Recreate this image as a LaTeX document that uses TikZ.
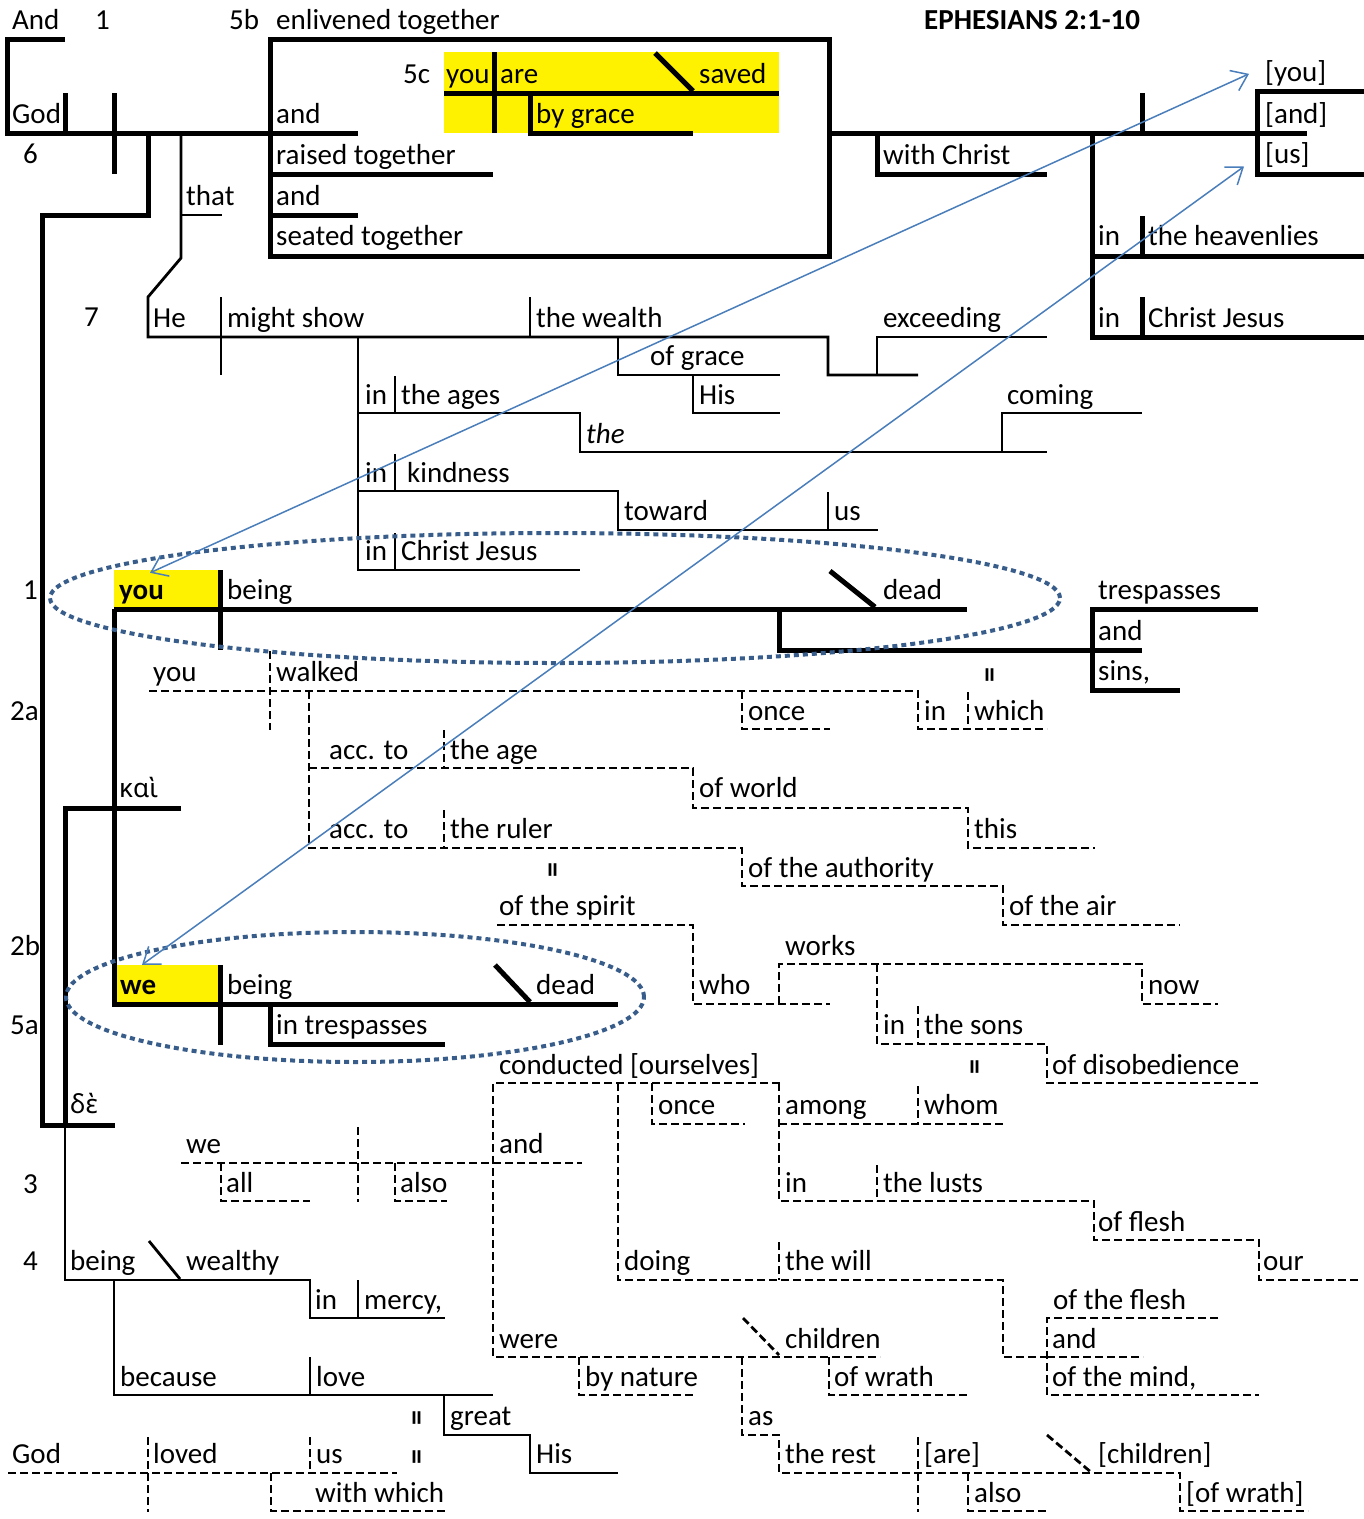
\documentclass[tikz,border=0pt]{standalone}
\usepackage{fontspec}
\setmainfont{Carlito}
\newfontfamily\greekfont{Noto Sans}[Scale=0.9]
\usepackage{tikz}
\usetikzlibrary{arrows.meta}
\usepackage{xcolor}
\definecolor{ringblue}{RGB}{56,93,138}
\definecolor{linkblue}{RGB}{74,126,187}

\begin{document}
\begin{tikzpicture}[
    x=1pt, y=-1pt,
    font=\fontsize{29}{34}\selectfont,
    word/.style={anchor=base west, inner sep=0pt},
    bword/.style={word, font=\fontsize{29}{34}\selectfont\bfseries},
    heavy/.style={line width=5pt},
    light/.style={line width=2.8pt},
    dashln/.style={line width=2.8pt, dash pattern=on 8pt off 4pt},
    hlbox/.style={fill=yellow, draw=none, inner sep=0pt},
    ring/.style={draw=ringblue, line width=4pt, dash pattern=on 5pt off 4pt},
    link/.style={draw=linkblue, line width=1.5pt, <->, >={Straight Barb[length=15pt,width=22pt]}},
    eqmark/.style={rotate=90, inner sep=0pt, font=\fontsize{30}{30}\selectfont\bfseries}
]
    \useasboundingbox (0,0) rectangle (1364,1519);

    % Highlights
    \node[hlbox, minimum width=335pt, minimum height=81pt] (gracebox) at (611.5,92.5) {};
    \node[hlbox, minimum width=105pt, minimum height=37pt] (youbox) at (166.5,588.5) {};
    \node[hlbox, minimum width=103pt, minimum height=37pt] (webox) at (167.5,983.5) {};

    % God ... enlivened together
    \draw[heavy] (65,39) -- (7,39) -- (7,133) -- (358,133);
    \draw[heavy] (65,93) -- (65,133);
    \draw[heavy] (114,93) -- (114,174);
    \draw[heavy] (148,133) -- (148,215) -- (42,215) -- (42,1125) -- (115,1125);
    \draw[heavy] (270,39) rectangle (829,256);
    \draw[heavy] (270,174) -- (493,174);
    \draw[heavy] (270,215) -- (358,215);
    \draw[heavy] (444,93) -- (779,93);
    \draw[heavy] (494,52) -- (494,133);
    \draw[heavy] (530,93) -- (530,133) -- (693,133);
    \draw[heavy] (655,53) -- (693,91);
    \draw[heavy] (829,133) -- (1307,133);
    \draw[heavy] (877,133) -- (877,174) -- (1047,174);
    \draw[heavy] (1142,93) -- (1142,133);
    \draw[heavy] (1092,133) -- (1092,337) -- (1364,337);
    \draw[heavy] (1092,256) -- (1364,256);
    \draw[heavy] (1142,216) -- (1142,256);
    \draw[heavy] (1142,297) -- (1142,337);
    \draw[heavy] (1364,91) -- (1257,91) -- (1257,174) -- (1364,174);

    % that He might show
    \draw[light] (181,133) -- (181,258) -- (148,297) -- (148,337) -- (828,337) -- (828,375) -- (918,375);
    \draw[light] (181,215) -- (222,215);
    \draw[light] (221,297) -- (221,375);
    \draw[light] (530,297) -- (530,337);
    \draw[light] (618,337) -- (618,375) -- (780,375);
    \draw[light] (693,375) -- (693,413) -- (780,413);
    \draw[light] (877,375) -- (877,337) -- (1047,337);
    \draw[light] (358,337) -- (358,570) -- (580,570);
    \draw[light] (358,413) -- (580,413) -- (580,452) -- (1047,452);
    \draw[light] (1002,452) -- (1002,413) -- (1142,413);
    \draw[light] (358,491) -- (618,491) -- (618,530) -- (878,530);
    \draw[light] (828,492) -- (828,530);
    \foreach \y in {413,491,570} {
        \draw[light] (395,{\y-37}) -- (395,\y);
    }

    % you being dead
    \draw[heavy] (114,609) -- (967,609);
    \draw[heavy] (220,570) -- (220,650);
    \draw[heavy] (830,571) -- (875,607);
    \draw[heavy] (779,609) -- (779,650) -- (1092,650);
    \draw[heavy] (1258,609) -- (1092,609) -- (1092,690) -- (1180,690);
    \draw[heavy] (1092,650) -- (1142,650);

    % you walked
    \draw[dashln] (149,691) -- (918,691) -- (918,729) -- (1047,729);
    \draw[dashln] (270,651) -- (270,730);
    \draw[dashln] (742,691) -- (742,729) -- (830,729);
    \draw[dashln] (968,692) -- (968,730);
    \draw[dashln] (309,691) -- (309,848) -- (742,848) -- (742,886) -- (1003,886) -- (1003,925) -- (1180,925);
    \draw[dashln] (309,768) -- (693,768) -- (693,808) -- (968,808) -- (968,848) -- (1095,848);
    \draw[dashln] (444,730) -- (444,768);
    \draw[dashln] (444,810) -- (444,848);
    \draw[dashln] (497,925) -- (693,925) -- (693,1004) -- (830,1004);
    \draw[dashln] (779,1004) -- (779,964) -- (1142,964) -- (1142,1004) -- (1218,1004);
    \draw[dashln] (877,964) -- (877,1044) -- (1047,1044) -- (1047,1083) -- (1259,1083);
    \draw[dashln] (918,1006) -- (918,1044);

    % we being dead
    \draw[heavy] (114,609) -- (114,1004) -- (618,1004);
    \draw[heavy] (181,808) -- (65,808) -- (65,1125);
    \draw[heavy] (220,965) -- (220,1045);
    \draw[heavy] (495,965) -- (530,1002);
    \draw[heavy] (270,1004) -- (270,1044) -- (445,1044);

    % we all also conducted
    \draw[dashln] (181,1163) -- (582,1163);
    \draw[dashln] (358,1127) -- (358,1202);
    \draw[dashln] (221,1163) -- (221,1201) -- (310,1201);
    \draw[dashln] (395,1163) -- (395,1201) -- (447,1201);
    \draw[dashln] (780,1083) -- (493,1083) -- (493,1357) -- (880,1357);
    \draw[dashln] (652,1083) -- (652,1124) -- (745,1124);
    \draw[dashln] (779,1083) -- (779,1201) -- (1094,1201) -- (1094,1240) -- (1259,1240) -- (1259,1280) -- (1358,1280);
    \draw[dashln] (779,1124) -- (1003,1124);
    \draw[dashln] (918,1086) -- (918,1124);
    \draw[dashln] (877,1165) -- (877,1201);
    \draw[dashln] (618,1083) -- (618,1280) -- (1003,1280) -- (1003,1357) -- (1047,1357);
    \draw[dashln] (779,1242) -- (779,1280);
    \draw[dashln] (1218,1318) -- (1047,1318) -- (1047,1395) -- (1259,1395);
    \draw[dashln] (1047,1357) -- (1143,1357);

    % were children of wrath
    \draw[dashln] (743,1318) -- (779,1355);
    \draw[dashln] (579,1357) -- (579,1395) -- (695,1395);
    \draw[dashln] (829,1357) -- (829,1395) -- (969,1395);
    \draw[dashln] (742,1357) -- (742,1435) -- (779,1435) -- (779,1473) -- (1180,1473) -- (1180,1511) -- (1308,1511);
    \draw[dashln] (918,1437) -- (918,1512);
    \draw[dashln] (968,1473) -- (968,1511) -- (1047,1511);
    \draw[dashln] (1047,1435) -- (1092,1473);

    % being wealthy in mercy
    \draw[light] (65,1125) -- (65,1280) -- (310,1280) -- (310,1318) -- (445,1318);
    \draw[light] (358,1280) -- (358,1318);
    \draw[light] (149,1241) -- (180,1279);
    \draw[light] (114,1280) -- (114,1395) -- (493,1395);
    \draw[light] (310,1357) -- (310,1395);
    \draw[light] (444,1395) -- (444,1435) -- (530,1435) -- (530,1473) -- (618,1473);

    % God loved us
    \draw[dashln] (8,1473) -- (397,1473);
    \draw[dashln] (148,1437) -- (148,1512);
    \draw[dashln] (310,1437) -- (310,1473);
    \draw[dashln] (271,1473) -- (271,1511) -- (445,1511);

    % Verse numbers
    \foreach \v/\x/\y [count=\i] in {1/95/29, 5b/229/29, 5c/403/83, 6/23/163, 7/84/326, 1/23/599, 2a/10/720, 2b/10/955, 5a/10/1034, 3/23/1193, 4/23/1270} {
        \node[word] (verse\i) at (\x,\y) {\v};
    }

    % Words
    \node[word] (andA) at (12,29) {And};
    \node[word] (enliv) at (276,29) {enlivened together};
    \node[bword] (title) at (924,29) {EPHESIANS 2:1-10};
    \node[word] (youC) at (446,83) {you};
    \node[word] (areC) at (500,83) {are};
    \node[word] (savedC) at (699,83) {saved};
    \node[word] (bryou) at (1265,81) {[you]};
    \node[word] (godA) at (12,123) {God};
    \node[word] (andB) at (276,123) {and};
    \node[word] (bygrace) at (536,123) {by grace};
    \node[word] (brand) at (1265,123) {[and]};
    \node[word] (raised) at (276,164) {raised together};
    \node[word] (withChrist) at (883,164) {with Christ};
    \node[word] (brus) at (1265,163) {[us]};
    \node[word] (that) at (186,205) {that};
    \node[word] (andC) at (276,205) {and};
    \node[word] (seated) at (276,245) {seated together};
    \node[word] (inHeav) at (1098,245) {in};
    \node[word] (heavenlies) at (1148,245) {the heavenlies};
    \node[word] (he) at (153,327) {He};
    \node[word] (show) at (227,327) {might show};
    \node[word] (wealth) at (536,327) {the wealth};
    \node[word] (exceeding) at (883,327) {exceeding};
    \node[word] (inCJa) at (1098,327) {in};
    \node[word] (cjA) at (1148,327) {Christ Jesus};
    \node[word] (ofgrace) at (650,365) {of grace};
    \node[word] (inAges) at (365,404) {in};
    \node[word] (ages) at (401,404) {the ages};
    \node[word] (hisA) at (699,404) {His};
    \node[word] (coming) at (1007,404) {coming};
    \node[word] (theIt) at (586,443) {\itshape the};
    \node[word] (inKind) at (365,482) {in};
    \node[word] (kindness) at (407,482) {kindness};
    \node[word] (toward) at (624,520) {toward};
    \node[word] (usA) at (834,520) {us};
    \node[word] (inCJb) at (365,560) {in};
    \node[word] (cjB) at (401,560) {Christ Jesus};
    \node[bword] (youA) at (119,599) {you};
    \node[word] (beingA) at (227,599) {being};
    \node[word] (deadA) at (883,599) {dead};
    \node[word] (trespA) at (1098,599) {trespasses};
    \node[word] (andD) at (1098,640) {and};
    \node[word] (sins) at (1098,680) {sins,};
    \node[word] (youB) at (153,681) {you};
    \node[word] (walked) at (276,681) {walked};
    \node[word] (onceA) at (748,720) {once};
    \node[word] (inWhich) at (924,720) {in};
    \node[word] (which) at (974,720) {which};
    \node[word] (accA) at (329,759) {acc. to};
    \node[word] (age) at (450,759) {the age};
    \node[word] (kai) at (119,797) {\greekfont καὶ};
    \node[word] (world) at (699,797) {of world};
    \node[word] (accB) at (329,838) {acc. to};
    \node[word] (ruler) at (450,838) {the ruler};
    \node[word] (this) at (974,838) {this};
    \node[word] (authority) at (748,877) {of the authority};
    \node[word] (spirit) at (499,915) {of the spirit};
    \node[word] (air) at (1009,915) {of the air};
    \node[word] (works) at (785,955) {works};
    \node[bword] (weA) at (120,994) {we};
    \node[word] (beingB) at (227,994) {being};
    \node[word] (deadB) at (536,994) {dead};
    \node[word] (who) at (699,994) {who};
    \node[word] (now) at (1148,994) {now};
    \node[word] (inTresp) at (276,1034) {in trespasses};
    \node[word] (inSons) at (883,1034) {in};
    \node[word] (sons) at (924,1034) {the sons};
    \node[word] (conducted) at (499,1074) {conducted [ourselves]};
    \node[word] (disob) at (1052,1074) {of disobedience};
    \node[word] (de) at (70,1113) {\greekfont δὲ};
    \node[word] (onceB) at (658,1114) {once};
    \node[word] (among) at (785,1114) {among};
    \node[word] (whom) at (924,1114) {whom};
    \node[word] (weB) at (186,1153) {we};
    \node[word] (andE) at (499,1153) {and};
    \node[word] (all) at (226,1192) {all};
    \node[word] (alsoA) at (400,1192) {also};
    \node[word] (inLusts) at (785,1192) {in};
    \node[word] (lusts) at (883,1192) {the lusts};
    \node[word] (flesh) at (1098,1231) {of flesh};
    \node[word] (beingC) at (70,1270) {being};
    \node[word] (wealthy) at (186,1270) {wealthy};
    \node[word] (doing) at (624,1270) {doing};
    \node[word] (will) at (785,1270) {the will};
    \node[word] (our) at (1263,1270) {our};
    \node[word] (inMercy) at (315,1309) {in};
    \node[word] (mercy) at (364,1309) {mercy,};
    \node[word] (ofFlesh) at (1053,1309) {of the flesh};
    \node[word] (were) at (499,1348) {were};
    \node[word] (children) at (785,1348) {children};
    \node[word] (andF) at (1052,1348) {and};
    \node[word] (because) at (120,1386) {because};
    \node[word] (love) at (316,1386) {love};
    \node[word] (nature) at (585,1386) {by nature};
    \node[word] (wrathA) at (834,1386) {of wrath};
    \node[word] (mind) at (1052,1386) {of the mind,};
    \node[word] (great) at (450,1425) {great};
    \node[word] (as) at (748,1425) {as};
    \node[word] (godB) at (12,1463) {God};
    \node[word] (loved) at (153,1463) {loved};
    \node[word] (usB) at (316,1463) {us};
    \node[word] (hisB) at (536,1463) {His};
    \node[word] (rest) at (785,1463) {the rest};
    \node[word] (are) at (924,1463) {[are]};
    \node[word] (childrenB) at (1098,1463) {[children]};
    \node[word] (withwhich) at (315,1502) {with which};
    \node[word] (alsoB) at (974,1502) {also};
    \node[word] (wrathB) at (1186,1502) {[of wrath]};

    % Equal marks
    \foreach \x/\y [count=\i] in {420/1418, 420/1457, 556/870, 993/675, 978/1067} {
        \node[eqmark] (eq\i) at (\x,\y) {=};
    }

    % Rings
    \draw[ring] (555,598) ellipse [x radius=505pt, y radius=65pt];
    \draw[ring] (355,997) ellipse [x radius=289pt, y radius=65pt];

    % Links
    \draw[link] ([xshift=-16.5pt,yshift=-3pt]youbox.north) -- ([xshift=-16pt,yshift=-1pt]bryou.west);
    \draw[link] ([xshift=-25.5pt]webox.north) -- ([xshift=-21pt,yshift=-12pt]brus.west);
\end{tikzpicture}
\end{document}
